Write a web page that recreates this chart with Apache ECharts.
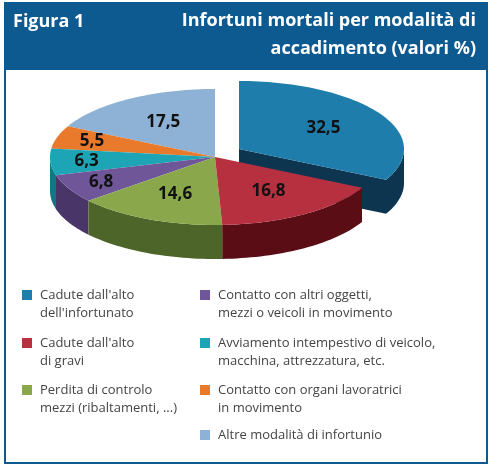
<!DOCTYPE html>
<html>
<head>
<meta charset="utf-8">
<script src="https://cdn.jsdelivr.net/npm/echarts@6/dist/echarts.min.js"></script>
<style>
  html, body { margin: 0; padding: 0; background: #fff; }
  #chart { width: 490px; height: 464px; }
</style>
</head>
<body>
<div id="chart"></div>
<script>
var categories = [
    "Cadute dall'alto\ndell'infortunato",
    "Cadute dall'alto\ndi gravi",
    "Perdita di controlo\nmezzi (ribaltamenti, ...)",
    "Contatto con altri oggetti,\nmezzi o veicoli in movimento",
    "Avviamento intempestivo di veicolo,\nmacchina, attrezzatura, etc.",
    "Contatto con organi lavoratrici\nin movimento",
    "Altre modalità di infortunio"
];
var values = [32.5, 16.8, 14.6, 6.8, 6.3, 5.5, 17.5];
var labels = ["32,5", "16,8", "14,6", "6,8", "6,3", "5,5", "17,5"];
var colors = ["#1f7dab", "#b7303f", "#8aa84b", "#6e5698", "#1ea5b5", "#e97a2c", "#8db2d6"];
var sideColors = ["#0d3550", "#5a0d14", "#4d6528", "#4a3569", "#127684", "#a8531a", "#5f84a6"];

var chart = echarts.init(document.getElementById("chart"));

// geometria del "pie 3D"
var cx = 215, cy = 157, rx = 165, ry = 68, depth = 34;
var explode = [24, -8];
var total = values.reduce(function (a, b) { return a + b; }, 0);
var starts = [], acc = 0;
for (var i = 0; i < values.length; i++) {
    starts.push(acc);
    acc += values[i];
}
// ordine di disegno: la fetta staccata per prima
var drawOrder = [0, 6, 5, 4, 3, 2, 1];

function pt(x0, y0, t, k) {
    return [x0 + rx * k * Math.cos(t), y0 + ry * k * Math.sin(t)];
}
function arc(x0, y0, a1, a2) {
    var pts = [], n = Math.max(4, Math.ceil((a2 - a1) / 0.03));
    for (var j = 0; j <= n; j++) pts.push(pt(x0, y0, a1 + (a2 - a1) * j / n, 1));
    return pts;
}
function cutFace(x0, y0, a, fill) {
    var p = pt(x0, y0, a, 1);
    return {
        type: "polygon",
        shape: { points: [[x0, y0], p, [p[0], p[1] + depth], [x0, y0 + depth]] },
        style: { fill: fill }
    };
}

function renderItem(params, api) {
    var idx = drawOrder[params.dataIndex];
    var v = values[idx];
    var a1 = -Math.PI / 2 + 2 * Math.PI * starts[idx] / total;
    var a2 = a1 + 2 * Math.PI * v / total;
    var x0 = cx, y0 = cy;
    if (idx === 0) { x0 += explode[0]; y0 += explode[1]; }
    var children = [];
    // faccia di taglio della fetta staccata
    if (idx === 0) {
        children.push(cutFace(x0, y0, a1, sideColors[idx]));
        children.push(cutFace(x0, y0, a2, sideColors[idx]));
    }
    // parete esterna (solo metà anteriore)
    var f1 = Math.max(a1, 0), f2 = Math.min(a2, Math.PI);
    if (f2 > f1) {
        var top = arc(x0, y0, f1, f2);
        var bot = top.slice().reverse().map(function (p) { return [p[0], p[1] + depth]; });
        children.push({ type: "polygon", shape: { points: top.concat(bot) }, style: { fill: sideColors[idx] } });
    }
    // faccia superiore
    var pts = [[x0, y0]].concat(arc(x0, y0, a1, a2));
    children.push({ type: "polygon", shape: { points: pts }, style: { fill: colors[idx] } });
    var am = (a1 + a2) / 2;
    var k = v < 10 ? 0.78 : 0.6;
    var lp = pt(x0, y0, am, k);
    children.push({
        type: "text",
        style: {
            x: lp[0], y: lp[1], text: labels[idx], align: "center", verticalAlign: "middle",
            font: "bold 17px 'Open Sans'", fill: "#111"
        }
    });
    return { type: "group", children: children };
}

// legenda su due colonne
var legendPos = [[22, 295], [22, 343], [22, 390], [200, 295], [200, 343], [200, 390], [200, 435]];
var legendItems = [];
categories.forEach(function (name, i) {
    legendItems.push({
        type: "rect", left: legendPos[i][0], top: legendPos[i][1] - 5,
        shape: { width: 10, height: 10 }, style: { fill: colors[i] }
    });
    legendItems.push({
        type: "text", left: legendPos[i][0] + 18, top: legendPos[i][1] - 9,
        style: { text: name, font: "13px 'Open Sans'", fill: "#444", lineHeight: 18 }
    });
});

chart.setOption({
    animation: false,
    graphic: [
        { type: "rect", left: 4, top: 2, shape: { width: 482, height: 460 }, style: { fill: "#fff", stroke: "#0d5a91", lineWidth: 2 } },
        { type: "rect", left: 4, top: 2, shape: { width: 482, height: 68 }, style: { fill: "#0d5a91" } },
        { type: "text", left: 13, top: 13, style: { text: "Figura 1", font: "bold 18px 'Open Sans'", fill: "#fff" } },
        { type: "text", right: 14, top: 12, style: { text: "Infortuni mortali per modalità di", font: "bold 18px 'Open Sans'", fill: "#fff" } },
        { type: "text", right: 14, top: 40, style: { text: "accadimento (valori %)", font: "bold 18px 'Open Sans'", fill: "#fff" } }
    ].concat(legendItems),
    series: [{
        type: "custom",
        coordinateSystem: "none",
        renderItem: renderItem,
        data: drawOrder.map(function (i) { return values[i]; })
    }]
});
</script>
</body>
</html>
